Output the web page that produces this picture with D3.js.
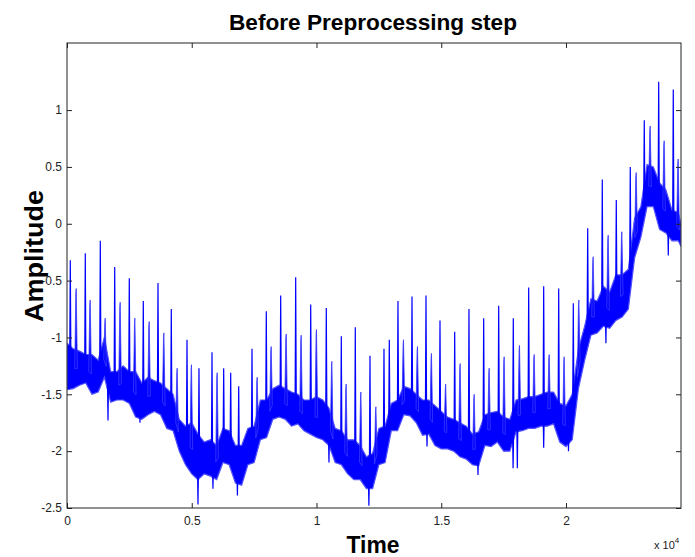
<!DOCTYPE html>
<html>
<head>
<meta charset="utf-8">
<script src="https://cdn.jsdelivr.net/npm/d3@7"></script>
<style>
  body { margin: 0; background: #fff; }
  text { font-family: "Liberation Sans", Arial, sans-serif; }
</style>
</head>
<body>
<div id="chart"></div>
<script>
// signal (samples, amplitude)
var bandStep = 250; // samples between band knots
var bandLo = [-1.46, -1.45, -1.42, -1.40, -1.50, -1.48, -1.35, -1.57, -1.55, -1.55,
  -1.58, -1.70, -1.72, -1.68, -1.65, -1.68, -1.80, -1.82, -2.00, -2.12,
  -2.20, -2.25, -2.20, -2.22, -2.25, -2.10, -2.12, -2.28, -2.30, -2.12,
  -2.10, -1.90, -1.88, -1.72, -1.70, -1.72, -1.78, -1.76, -1.82, -1.85,
  -1.88, -1.90, -1.95, -2.10, -2.12, -2.20, -2.25, -2.25, -2.33, -2.33,
  -2.12, -2.10, -1.82, -1.82, -1.68, -1.69, -1.75, -1.86, -1.85, -1.95,
  -1.98, -1.98, -2.00, -2.05, -2.07, -2.12, -2.13, -1.95, -1.96, -1.92,
  -2.00, -2.00, -1.83, -1.82, -1.80, -1.80, -1.78, -1.78, -1.76, -1.92,
  -1.96, -1.90, -1.45, -1.20, -0.98, -0.96, -0.90, -0.92, -0.85, -0.82,
  -0.75, -0.30, -0.12, 0.15, 0.15, -0.05, -0.08, -0.15, -0.15, -0.20];
var bandHi = [-1.05, -1.10, -1.12, -1.15, -1.15, -1.20, -1.00, -1.30, -1.30, -1.25,
  -1.30, -1.30, -1.40, -1.35, -1.38, -1.40, -1.45, -1.50, -1.72, -1.78,
  -1.75, -1.85, -1.92, -1.90, -1.95, -1.80, -1.82, -1.95, -1.95, -1.80,
  -1.78, -1.55, -1.55, -1.45, -1.42, -1.45, -1.48, -1.50, -1.55, -1.55,
  -1.52, -1.55, -1.62, -1.80, -1.82, -1.90, -1.90, -1.95, -2.05, -2.02,
  -1.80, -1.78, -1.58, -1.55, -1.43, -1.45, -1.50, -1.55, -1.55, -1.60,
  -1.65, -1.70, -1.72, -1.75, -1.78, -1.85, -1.83, -1.68, -1.66, -1.65,
  -1.70, -1.72, -1.55, -1.54, -1.52, -1.52, -1.50, -1.48, -1.48, -1.58,
  -1.60, -1.50, -1.10, -0.90, -0.66, -0.68, -0.55, -0.60, -0.45, -0.45,
  -0.40, 0.05, 0.15, 0.52, 0.50, 0.36, 0.30, 0.12, 0.10, 0.00];

// R peaks (tall needles)
var rT = [132, 733, 1335, 1912, 2497, 3058, 3647, 4180, 4810, 5290,
  5812, 6280, 6561, 6882, 7415, 7988, 8565, 9166, 9768, 10393,
  10994, 11555, 12144, 12705, 12918, 13266, 13828, 14389, 14950, 15539,
  16112, 16701, 17303, 17888, 18505, 19106, 19708, 20293, 20870, 21455,
  22016, 22577, 23138, 23716, 24300];
var rV = [-0.32, -0.26, -0.15, -0.38, -0.48, -0.68, -0.52, -0.75, -1.02, -1.27,
  -1.13, -1.27, -1.31, -1.43, -1.10, -0.77, -0.63, -0.47, -0.71, -0.74,
  -0.99, -0.91, -1.16, -1.10, -1.02, -0.68, -0.64, -0.63, -0.85, -0.95,
  -0.75, -0.83, -0.72, -0.83, -0.56, -0.55, -0.57, -0.70, -0.04, 0.39,
  0.21, 0.50, 0.91, 1.25, 1.18];

// T waves (thicker bumps just after each R)
var tT = [361, 922, 1523, 2124, 2713, 3287, 3876, 4409, 4982, 6012,
  7615, 8176, 8778, 9379, 9992, 10609, 11182, 11772, 12373, 13479,
  14040, 14601, 15170, 15751, 16313, 16914, 17515, 18129, 18718, 19319,
  19920, 20509, 21082, 21684, 22232, 22806, 23367, 23928, 24489];
var tV = [-0.61, -0.71, -0.87, -0.73, -0.87, -0.90, -1.00, -1.31, -1.28, -1.35,
  -1.39, -1.12, -1.01, -1.02, -0.97, -1.25, -1.45, -1.52, -1.65, -1.06,
  -1.12, -1.18, -1.45, -1.27, -1.54, -1.31, -1.21, -1.11, -1.19, -1.19,
  -1.21, -0.71, -0.33, -0.14, -0.11, 0.41, 0.82, 0.69, 0.53];

// downward spikes
var dipT = [1643, 2925, 5250, 5850, 6830, 10500, 12100, 14430, 16473, 17880, 18050, 19106, 20100, 21600, 24100];
var dipV = [-1.73, -1.75, -2.47, -2.33, -2.39, -2.10, -2.48, -1.96, -2.21, -2.15, -2.15, -1.97, -2.00, -1.05, -0.28];

var xTicks = [0, 5000, 10000, 15000, 20000];
var xTickLabels = ["0", "0.5", "1", "1.5", "2"];
var yTicks = [-2.5, -2, -1.5, -1, -0.5, 0, 0.5, 1];

var W = 695, H = 557;
var pLeft = 67, pRight = 681, pTop = 43, pBottom = 508;

var svg = d3.select("#chart").append("svg")
  .attr("width", W)
  .attr("height", H);

svg.append("rect").attr("width", W).attr("height", H).attr("fill", "#fff");

var x = d3.scaleLinear().domain([0, 24610]).range([pLeft, pRight]);
var y = d3.scaleLinear().domain([-2.5, 1.59]).range([pBottom, pTop]);

var band = bandLo.map(function(d, i) {
  return { t: Math.min(i * bandStep, 24610), lo: d, hi: bandHi[i] };
});
band[band.length - 1].t = 24610;

// band edge at a given sample, used as the foot of each spike
function bandAt(t, key) {
  var i = Math.max(0, Math.min(Math.floor(t / bandStep), band.length - 2));
  var a = band[i], b = band[i + 1];
  var f = (t - a.t) / (b.t - a.t);
  if (key == "mid") return ((a.lo + a.hi) / 2) * (1 - f) + ((b.lo + b.hi) / 2) * f;
  return a[key] * (1 - f) + b[key] * f;
}

svg.append("clipPath").attr("id", "clip")
  .append("rect").attr("x", pLeft).attr("y", pTop)
  .attr("width", pRight - pLeft).attr("height", pBottom - pTop);
var g = svg.append("g")
  .attr("clip-path", "url(#clip)");

var area = d3.area()
  .x(function(d) { return x(d.t); })
  .y0(function(d) { return y(d.lo); })
  .y1(function(d) { return y(d.hi); });

g.append("path")
  .datum(band)
  .attr("d", area)
  .attr("fill", "#0000ff")
  .attr("stroke", "#5050ff")
  .attr("stroke-width", 1.2);

// T bumps: slim wedges sitting on the band
g.selectAll(".twave")
  .data(tT.map(function(t, i) { return { t: t, v: tV[i] }; }))
  .enter().append("path")
  .attr("class", "twave")
  .attr("d", function(d) {
    return "M" + x(d.t - 50) + "," + y(bandAt(d.t - 50, "mid")) +
      "L" + x(d.t - 8) + "," + y(d.v) +
      "L" + x(d.t + 8) + "," + y(d.v + 0.04) +
      "L" + x(d.t + 55) + "," + y(bandAt(d.t + 55, "mid")) + "Z";
  })
  .attr("fill", "#0000ff")
  .attr("stroke", "#3a3aff")
  .attr("stroke-width", 0.8);

// R needles and downward dips
var needles = rT.map(function(t, i) { return { t: t, v: rV[i] }; })
  .concat(dipT.map(function(t, i) { return { t: t, v: dipV[i] }; }));

g.selectAll(".spike")
  .data(needles)
  .enter().append("path")
  .attr("class", "spike")
  .attr("d", function(d) {
    var m = bandAt(d.t, "mid");
    return "M" + x(d.t - 25) + "," + y(m) +
      "L" + x(d.t) + "," + y(d.v) +
      "L" + x(d.t + 25) + "," + y(m);
  })
  .attr("fill", "none")
  .attr("stroke", "#0000ff")
  .attr("stroke-width", 1.2);

// box
svg.append("rect")
  .attr("x", pLeft).attr("y", pTop)
  .attr("width", pRight - pLeft).attr("height", pBottom - pTop)
  .attr("fill", "none")
  .attr("stroke", "#222")
  .attr("stroke-width", 1);

// ticks inside the box, on all four sides
svg.append("g")
  .attr("transform", "translate(0," + pBottom + ")")
  .call(d3.axisBottom(x).tickValues(xTicks).tickSizeInner(-5).tickSizeOuter(0)
    .tickFormat(function(d, i) { return xTickLabels[i]; }))
  .call(function(a) {
    a.select(".domain").remove();
    a.selectAll("text").attr("y", 8).attr("dy", "0.71em").attr("fill", "#222")
      .style("font-size", "12px").style("font-family", "Liberation Sans, Arial");
  });
svg.append("g")
  .attr("transform", "translate(0," + pTop + ")")
  .call(d3.axisTop(x).tickValues(xTicks).tickSizeInner(-5).tickSizeOuter(0).tickFormat(""))
  .call(function(a) { a.select(".domain").remove(); });
svg.append("g")
  .attr("transform", "translate(" + pLeft + ",0)")
  .call(d3.axisLeft(y).tickValues(yTicks).tickSizeInner(-5).tickSizeOuter(0)
    .tickFormat(function(d) { return String(d); }))
  .call(function(a) {
    a.select(".domain").remove();
    a.selectAll("text").attr("x", -5).attr("fill", "#222")
      .style("font-size", "12px").style("font-family", "Liberation Sans, Arial");
  });
svg.append("g")
  .attr("transform", "translate(" + pRight + ",0)")
  .call(d3.axisRight(y).tickValues(yTicks).tickSizeInner(-5).tickSizeOuter(0).tickFormat(""))
  .call(function(a) { a.select(".domain").remove(); });
svg.selectAll(".tick line").attr("stroke", "#222");

// labels
svg.append("text")
  .attr("x", 373).attr("y", 30)
  .attr("text-anchor", "middle")
  .attr("textLength", 288).attr("lengthAdjust", "spacingAndGlyphs")
  .style("font-size", "22px").style("font-weight", "bold")
  .text("Before Preprocessing step");

svg.append("text")
  .attr("transform", "translate(43,256) rotate(-90)")
  .attr("text-anchor", "middle")
  .attr("textLength", 132).attr("lengthAdjust", "spacingAndGlyphs")
  .style("font-size", "26px").style("font-weight", "bold")
  .text("Amplitude");

svg.append("text")
  .attr("x", 373).attr("y", 553)
  .attr("text-anchor", "middle")
  .attr("textLength", 53).attr("lengthAdjust", "spacingAndGlyphs")
  .style("font-size", "24px").style("font-weight", "bold")
  .text("Time");

var exp = svg.append("text")
  .attr("x", 654).attr("y", 549)
  .style("font-size", "11px").attr("fill", "#222")
  .text("x 10");
exp.append("tspan").attr("dy", -6).style("font-size", "8px").text("4");
</script>
</body>
</html>
